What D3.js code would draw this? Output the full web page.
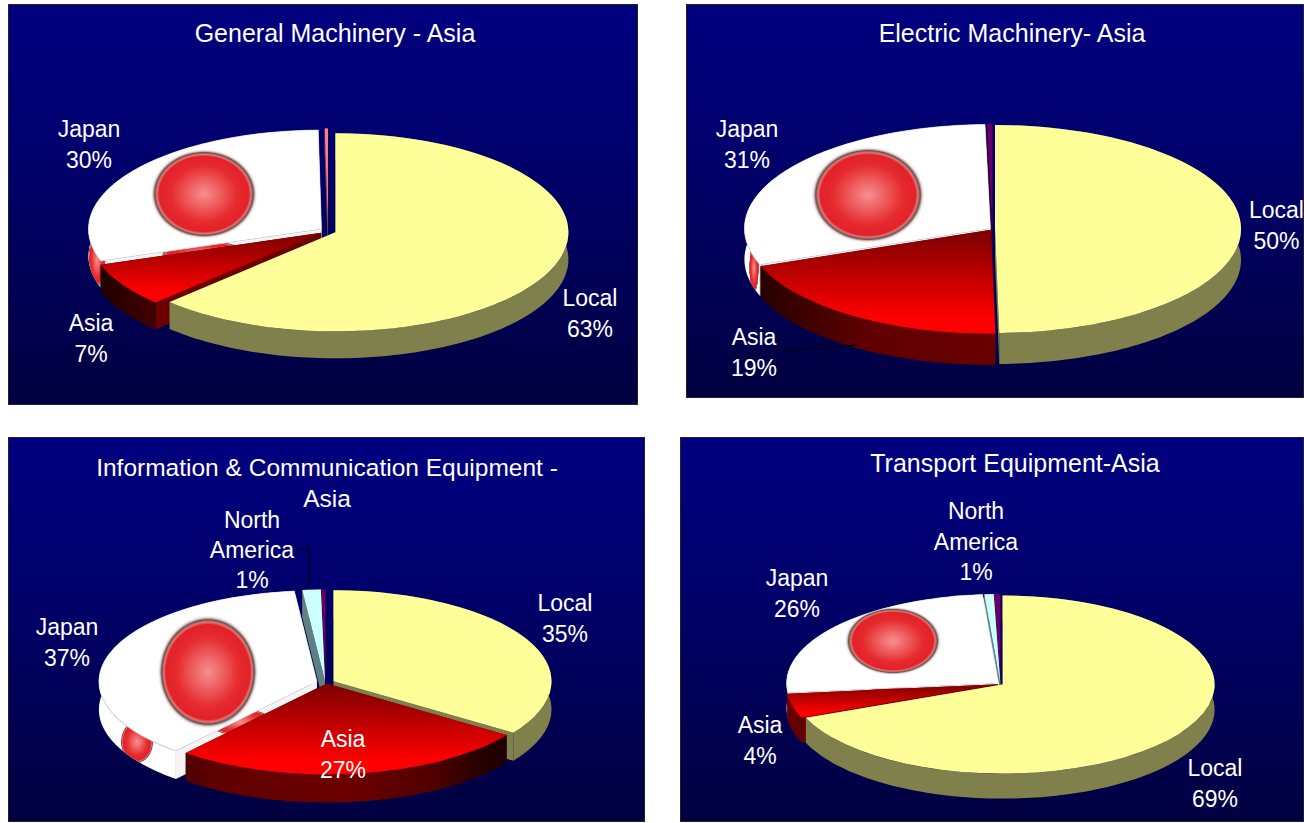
<!DOCTYPE html>
<html><head><meta charset="utf-8">
<script src="https://cdn.jsdelivr.net/npm/d3@7"></script>
<style>html,body{margin:0;padding:0;background:#fff;overflow:hidden}svg{display:block}text{font-family:"Liberation Sans",Arial,sans-serif;fill:#fff}</style>
</head><body><svg id="c" width="1304" height="823"></svg>
<script>
// ---- data ----
const categories = ["Local","Asia","Japan","North America","Europe","Other"];
const generalMachinery = [62.6, 7.2, 30.0, 0, 0, 0.22];
const electricMachinery = [49.7, 19.6, 30.3, 0, 0.35, 0];
const infoCommEquipment = [34.5, 26.6, 37.1, 1.35, 0.3, 0];
const transportEquipment = [68.7, 4.4, 25.4, 0.7, 0.5, 0];
const generalLabels = [63, 7, 30];
const electricLabels = [50, 19, 31];
const infoLabels = [35, 27, 37, 1];
const transportLabels = [69, 4, 26, 1];

// ---- layout & style ----
const topColors = ["#FFFF99","url(#red)","#FFFFFF","#CCFFFF","#660066","#FF8080"];
const wallColors = ["#80804D",null,"#FFFFFF","#668080","#330033","#804040"];
const cutColors = ["#80804D","#6A0000","#F4F4F4","#5F8080","#330033","#804040"];
const panels = [
 {box:[8,4,630,401], title:["General Machinery - Asia"], titleSize:25, tx:335, ty:[33], values:generalMachinery, pct:generalLabels,
  cx:328, cy:231, rx:233, ry:99, depth:27, explode:8, tilt:1, order:[5,2,1,0],
  labels:[{c:0,x:590,y:[298,329]},{c:1,x:91,y:[323,354]},{c:2,x:89,y:[129,160]}],
  flag:[204,194,50,42], spots:[[97,260,9,28],[204,254,44,14]], leader:null},
 {box:[686,4,618,394], title:["Electric Machinery- Asia"], titleSize:25, tx:1012, ty:[33], values:electricMachinery, pct:electricLabels,
  cx:992.5, cy:229, rx:246, ry:104, depth:31, explode:2.5, tilt:1, order:[4,2,1,0],
  labels:[{c:0,x:1276.5,y:[210,241]},{c:1,x:754,y:[337,368]},{c:2,x:747,y:[129,160]}],
  flag:[868,195,53,45], spots:[[754,268,5,26]], leader:[[781,351],[857,345]]},
 {box:[8,437,637,385], title:["Information & Communication Equipment -","Asia"], titleSize:24.5, tx:327, ty:[467,498], values:infoCommEquipment, pct:infoLabels,
  cx:325.5, cy:682, rx:218, ry:91, depth:28, explode:9, tilt:.4, order:[4,3,2,0,1],
  labels:[{c:0,x:565,y:[603,634]},{c:1,x:343,y:[739,770]},{c:2,x:67,y:[627,658]},{c:3,x:252,y:[520,550,580],split:true}],
  flag:[208,672,47,53], spots:[[137,742,17,22],[240,722,34,14]], leader:[[296,549],[309,549],[309,587]]},
 {box:[680,437,624,385], title:["Transport Equipment-Asia"], titleSize:25, tx:1015, ty:[463], values:transportEquipment, pct:transportLabels,
  cx:1000.5, cy:684, rx:212, ry:89, depth:25, explode:2.5, tilt:1, order:[4,3,2,1,0], flatWall:"#640000",
  labels:[{c:0,x:1215,y:[768,799]},{c:1,x:760,y:[725,756]},{c:2,x:797,y:[578,609]},{c:3,x:976,y:[511,542,572],split:true}],
  flag:[893,641,45,32], spots:[[893,691,30,3]], leader:null}
];

const svg = d3.select("#c");
const defs = svg.append("defs");
function grad(el,id,attrs,stops){
  const g = defs.append(el).attr("id",id);
  Object.entries(attrs).forEach(([k,v])=>g.attr(k,v));
  stops.forEach(s=>g.append("stop").attr("offset",s[0]).attr("stop-color",s[1]).attr("stop-opacity",s[2]===undefined?1:s[2]));
}
grad("linearGradient","bg",{x1:0,y1:0,x2:0,y2:1},[[0,"#000080"],[.35,"#00006e"],[1,"#000040"]]);
grad("linearGradient","red",{x1:0,y1:0,x2:0,y2:1},[[0,"#7a0000"],[.85,"#FF0000"],[1,"#FF0000"]]);
grad("radialGradient","ball",{},[[0,"#F59090"],[.3,"#EE5F60"],[.62,"#E62A2E"],[.83,"#E2222A"],[.87,"#EE7070"],[.895,"#8A6A64"],[.915,"#6B5550"],[.95,"#D8BEBE",.7],[1,"#FFFFFF",0]]);

const pieGen = d3.pie().sort(null).value(d=>d);
panels.forEach((p,pi)=>{
  const g = svg.append("g");
  const [bx,by,bw,bh] = p.box;
  g.append("rect").attr("x",bx+.5).attr("y",by+.5).attr("width",bw-1).attr("height",bh-1)
    .attr("fill","url(#bg)").attr("stroke","#222").attr("stroke-width",1);
  grad("linearGradient","redWall"+pi,{gradientUnits:"userSpaceOnUse",x1:p.cx-p.rx,y1:0,x2:p.cx+p.rx,y2:0},
       [[0,"#1c0000"],[.1,"#3a0000"],[.25,"#600000"],[.55,"#6c0000"],[.75,"#500000"],[.84,"#2a0000"],[1,"#100000"]]);

  const arcs = pieGen(p.values);
  const k = p.ry/p.rx;
  const apexOf = a=>{const m=(a.startAngle+a.endAngle)/2;return [p.cx+p.explode*Math.sin(m), p.cy-p.explode*Math.cos(m)*k*p.tilt];};
  const rim = (a,t)=>[a[0]+p.rx*Math.sin(t), a[1]-p.ry*Math.cos(t)];
  const arcGen = d3.arc().innerRadius(0).outerRadius(p.rx);
  const line = d3.line();

  p.order.forEach(i=>{
    const a = arcs[i], apex = apexOf(a);
    if(a.endAngle-a.startAngle<=0) return;
    const n = Math.max(2,Math.ceil((a.endAngle-a.startAngle)*40));
    const ts = d3.range(n+1).map(j=>a.startAngle+(a.endAngle-a.startAngle)*j/n);
    const outer = ts.map(t=>rim(apex,t));
    const lower = outer.map(q=>[q[0],q[1]+p.depth]).reverse();
    const wallD = line(outer.concat(lower))+"Z";
    const cutD = t=>{const r=rim(apex,t);return line([apex,r,[r[0],r[1]+p.depth],[apex[0],apex[1]+p.depth]])+"Z";};
    const fillWall = i===1 ? (p.flatWall||`url(#redWall${pi})`) : wallColors[i];
    g.append("path").attr("d",cutD(a.startAngle)).attr("fill",cutColors[i]);
    g.append("path").attr("d",cutD(a.endAngle)).attr("fill",cutColors[i]);
    g.append("path").attr("d",wallD).attr("fill",fillWall);
    if(i===2){
      const clipId="wc"+pi;
      const cp=defs.append("clipPath").attr("id",clipId);
      cp.append("path").attr("d",wallD);
      cp.append("path").attr("d",cutD(a.startAngle));
      g.append("g").attr("clip-path",`url(#${clipId})`).selectAll("ellipse").data(p.spots).join("ellipse")
        .attr("cx",d=>d[0]).attr("cy",d=>d[1]).attr("rx",d=>d[2]).attr("ry",d=>d[3]).attr("fill","url(#ball)");
    }
    const tr=`translate(${apex[0]},${apex[1]}) scale(1,${k})`;
    g.append("path").attr("d",arcGen(a)).attr("transform",tr).attr("fill",topColors[i])
      .attr("stroke",i===2?"#E4E4E4":"none").attr("stroke-width",i===2?.8:0);
    if(i===2){
      const id="tc"+pi;
      defs.append("clipPath").attr("id",id).append("path").attr("d",arcGen(a)).attr("transform",tr);
      g.append("ellipse").attr("clip-path",`url(#${id})`)
        .attr("cx",p.flag[0]).attr("cy",p.flag[1]).attr("rx",p.flag[2]*1.08).attr("ry",p.flag[3]*1.08).attr("fill","url(#ball)");
    }
  });

  if(p.leader) g.append("path").attr("d",line(p.leader)).attr("fill","none").attr("stroke","#000").attr("stroke-width",1);

  p.title.forEach((t,j)=>g.append("text").attr("x",p.tx).attr("y",p.ty[j]).attr("dy",".35em")
    .attr("text-anchor","middle").attr("font-size",p.titleSize).text(t));
  p.labels.forEach(l=>{
    const name = categories[l.c];
    const lines = (l.split?name.split(" "):[name]).concat(p.pct[l.c]+"%");
    lines.forEach((t,j)=>g.append("text").attr("x",l.x).attr("y",l.y[j]).attr("dy",".35em")
      .attr("text-anchor","middle").attr("font-size",23).text(t));
  });
});
</script></body></html>
